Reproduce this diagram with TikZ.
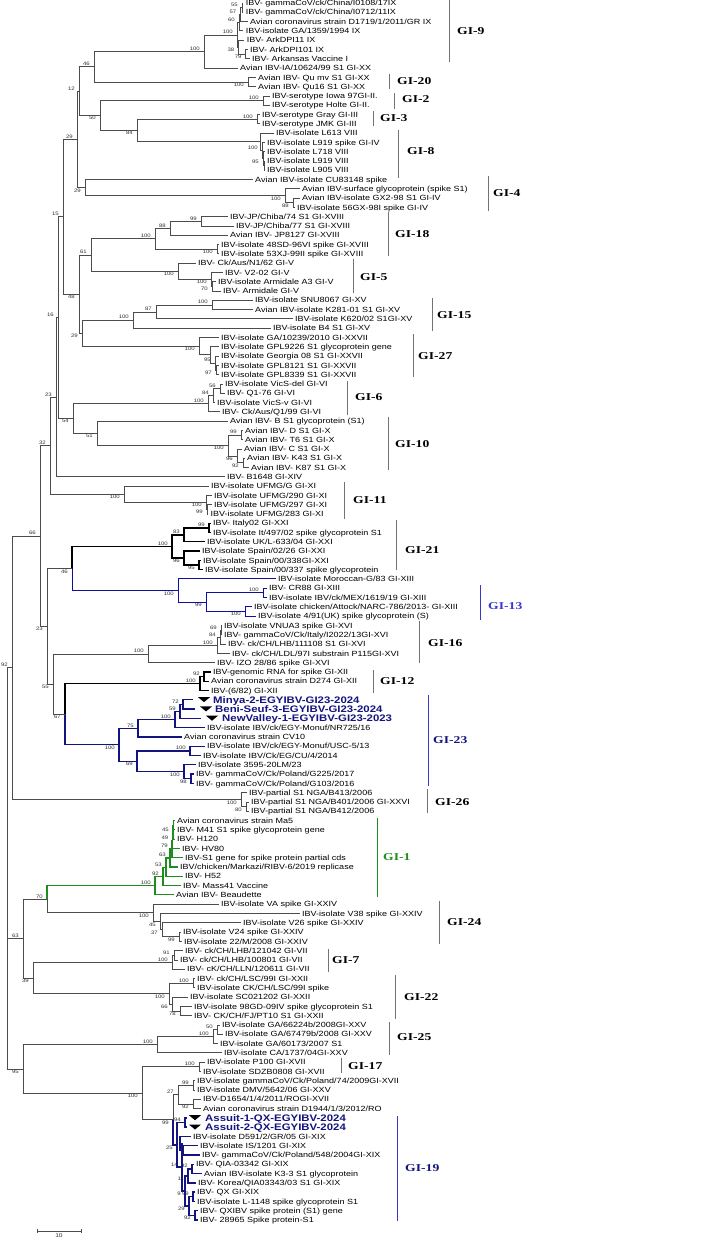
\documentclass[tikz,border=0pt]{standalone}
\usepackage{fontspec}
\setmainfont{Liberation Sans}
\newfontfamily\leaffont{Liberation Sans}[FakeStretch=1.2]
\newfontfamily\cladefont{Liberation Serif}[FakeStretch=1.3]
\usetikzlibrary{calc}
\definecolor{navy}{rgb}{0.08,0.08,0.5}
\definecolor{blu}{rgb}{0.22,0.22,0.8}
\definecolor{grn}{rgb}{0.12,0.55,0.12}
\definecolor{brc}{gray}{0.3}
\tikzset{
 br/.style={draw=brc, line width=0.75pt},
 brk/.style={draw=black, line width=1.3pt},
 brn/.style={draw=navy, line width=1.4pt},
 brbl/.style={draw=navy!75!blue, line width=1pt},
 brg/.style={draw=grn, line width=1.1pt},
 leaf/.style={anchor=west, inner sep=0pt, font=\leaffont\fontsize{7.5}{9}\selectfont, text height=5.4pt, text depth=0pt},
 leafb/.style={anchor=west, inner sep=0pt, font=\leaffont\bfseries\fontsize{9.5}{11}\selectfont, text=navy, text height=6.8pt, text depth=0pt},
 bsl/.style={inner sep=0pt, font=\leaffont\fontsize{5}{6}\selectfont, text=black!80},
 clab/.style={anchor=west, inner sep=0pt, font=\cladefont\bfseries\fontsize{10.5}{12}\selectfont},
 bar/.style={line width=0.8pt},
}
\newcommand\lf[3]{\coordinate (L#1) at ({#2-2.5},{3+(#1-1)*9.29}); \node[leaf] (T#1) at (#2,{3+(#1-1)*9.29}) {#3};}
\newcommand\lfm[5]{\coordinate (L#1) at (#2,{3+(#1-1)*9.29});
 \fill (#3,{3+(#1-1)*9.29-2.6}) -- ({#3+12},{3+(#1-1)*9.29-2.6}) -- ({#3+6},{3+(#1-1)*9.29+2.4}) -- cycle;
 \node[leafb] (T#1) at (#4,{3+(#1-1)*9.29}) {#5};}
\newcommand\ndx[6]{\path let \p1=($(#3)!0.5!(#4)$) in coordinate (#1) at (#2pt,\y1);
 \draw[#5] (#1) |- (#3); \draw[#6] (#1) |- (#4);}
\newcommand\nd[5][br]{\ndx{#2}{#3}{#4}{#5}{#1}{#1}}
\newcommand\ba[2]{\node[bsl,anchor=south east] (b#1) at ([xshift=-4pt,yshift=0.8pt]#1) {#2};}
\newcommand\bb[2]{\node[bsl,anchor=north east] (b#1) at ([xshift=-4pt,yshift=-0.8pt]#1) {#2};}
\newcommand\clade[9]{\draw[bar,draw=#8] (#2,#3) -- (#2,#4); \node[clab,text=#9] (#1) at (#5,#6) {#7};}
\begin{document}
\begin{tikzpicture}[x=1pt,y=-1pt]
\useasboundingbox (0,0) rectangle (706,1240);
\fill[white] (0,0) rectangle (706,1240);
% ---------- leaves
\lf{1}{245.7}{IBV- gammaCoV/ck/China/I0108/17IX}
\lf{2}{245.7}{IBV- gammaCoV/ck/China/I0712/11IX}
\lf{3}{250}{Avian coronavirus strain D1719/1/2011/GR IX}
\lf{4}{245.7}{IBV-isolate GA/1359/1994 IX}
\lf{5}{246.7}{IBV- ArkDPI11 IX}
\lf{6}{250}{IBV- ArkDPI101 IX}
\lf{7}{252}{IBV- Arkansas Vaccine I}
\lf{8}{240}{Avian IBV-IA/10624/99 S1 GI-XX}
\lf{9}{258}{Avian IBV- Qu mv S1 GI-XX}
\lf{10}{258}{Avian IBV- Qu16 S1 GI-XX}
\lf{11}{272}{IBV-serotype Iowa 97GI-II.}
\lf{12}{272}{IBV-serotype Holte GI-II.}
\lf{13}{262}{IBV-serotype Gray GI-III}
\lf{14}{262}{IBV-serotype JMK GI-III}
\lf{15}{276}{IBV-isolate L613 VIII}
\lf{16}{267}{IBV-isolate L919 spike GI-IV}
\lf{17}{267}{IBV-isolate L718 VIII}
\lf{18}{267}{IBV-isolate L919 VIII}
\lf{19}{267}{IBV-isolate L905 VIII}
\lf{20}{255}{Avian IBV-isolate CU83148 spike}
\lf{21}{302}{Avian IBV-surface glycoprotein (spike S1)}
\lf{22}{302}{Avian IBV-isolate GX2-98 S1 GI-IV}
\lf{23}{297}{IBV-isolate 56GX-98I spike GI-IV}
\lf{24}{230}{IBV-JP/Chiba/74 S1 GI-XVIII}
\lf{25}{236}{IBV-JP/Chiba/77 S1 GI-XVIII}
\lf{26}{230}{Avian IBV- JP8127 GI-XVIII}
\lf{27}{221}{IBV-isolate 48SD-96VI spike GI-XVIII}
\lf{28}{221}{IBV-isolate 53XJ-99II spike GI-XVIII}
\lf{29}{198}{IBV- Ck/Aus/N1/62 GI-V}
\lf{30}{225}{IBV- V2-02 GI-V}
\lf{31}{218}{IBV-isolate Armidale A3 GI-V}
\lf{32}{223}{IBV- Armidale GI-V}
\lf{33}{255}{IBV-isolate SNU8067 GI-XV}
\lf{34}{255}{Avian IBV-isolate K281-01 S1 GI-XV}
\lf{35}{295}{IBV-isolate K620/02 S1GI-XV}
\lf{36}{273}{IBV-isolate B4 S1 GI-XV}
\lf{37}{221}{IBV-isolate GA/10239/2010 GI-XXVII}
\lf{38}{221}{IBV-isolate GPL9226 S1 glycoprotein gene}
\lf{39}{221}{IBV-isolate Georgia 08 S1 GI-XXVII}
\lf{40}{221}{IBV-isolate GPL8121 S1 GI-XXVII}
\lf{41}{221}{IBV-isolate GPL8339 S1 GI-XXVII}
\lf{42}{225}{IBV-isolate VicS-del GI-VI}
\lf{43}{227}{IBV- Q1-76 GI-VI}
\lf{44}{217}{IBV-isolate VicS-v GI-VI}
\lf{45}{222}{IBV- Ck/Aus/Q1/99 GI-VI}
\lf{46}{230}{Avian IBV- B S1 glycoprotein (S1)}
\lf{47}{245}{Avian IBV- D S1 GI-X}
\lf{48}{245}{Avian IBV- T6 S1 GI-X}
\lf{49}{244}{Avian IBV- C S1 GI-X}
\lf{50}{247}{Avian IBV- K43 S1 GI-X}
\lf{51}{251}{Avian IBV- K87 S1 GI-X}
\lf{52}{227}{IBV- B1648 GI-XIV}
\lf{53}{211}{IBV-isolate UFMG/G GI-XI}
\lf{54}{214}{IBV-isolate UFMG/290 GI-XI}
\lf{55}{214}{IBV-isolate UFMG/297 GI-XI}
\lf{56}{210.5}{IBV-isolate UFMG/283 GI-XI}
\lf{57}{213}{IBV- Italy02 GI-XXI}
\lf{58}{213}{IBV-isolate It/497/02 spike glycoprotein S1}
\lf{59}{207}{IBV-isolate UK/L-633/04 GI-XXI}
\lf{60}{202}{IBV-isolate Spain/02/26 GI-XXI}
\lf{61}{203}{IBV-isolate Spain/00/338GI-XXI}
\lf{62}{205}{IBV-isolate Spain/00/337 spike glycoprotein}
\lf{63}{278}{IBV-isolate Moroccan-G/83 GI-XIII}
\lf{64}{269}{IBV- CR88 GI-XIII}
\lf{65}{269}{IBV-isolate IBV/ck/MEX/1619/19 GI-XIII}
\lf{66}{254}{IBV-isolate chicken/Attock/NARC-786/2013- GI-XIII}
\lf{67}{258}{IBV-isolate 4/91(UK) spike glycoprotein (S)}
\lf{68}{224}{IBV-isolate VNUA3 spike GI-XVI}
\lf{69}{224}{IBV- gammaCoV/Ck/Italy/I2022/13GI-XVI}
\lf{70}{228}{IBV- ck/CH/LHB/111108 S1 GI-XVI}
\lf{71}{232}{IBV- ck/CH/LDL/97I substrain P115GI-XVI}
\lf{72}{217}{IBV- IZO 28/86 spike GI-XVI}
\lf{73}{213}{IBV-genomic RNA for spike GI-XII}
\lf{74}{211}{Avian coronavirus strain D274 GI-XII}
\lf{75}{211}{IBV-(6/82) GI-XII}
\lfm{76}{193}{198}{213}{Minya-2-EGYIBV-GI23-2024}
\lfm{77}{195}{200}{215}{Beni-Seuf-3-EGYIBV-GI23-2024}
\lfm{78}{201}{206}{222}{NewValley-1-EGYIBV-GI23-2023}
\lf{79}{207}{IBV-isolate IBV/ck/EGY-Monuf/NR725/16}
\lf{80}{184}{Avian coronavirus strain CV10}
\lf{81}{207}{IBV-isolate IBV/ck/EGY-Monuf/USC-5/13}
\lf{82}{203}{IBV-isolate IBV/Ck/EG/CU/4/2014}
\lf{83}{198}{IBV-isolate 3595-20LM/23}
\lf{84}{196}{IBV- gammaCoV/Ck/Poland/G225/2017}
\lf{85}{196}{IBV- gammaCoV/Ck/Poland/G103/2016}
\lf{86}{249}{IBV-partial S1 NGA/B413/2006}
\lf{87}{251}{IBV-partial S1 NGA/B401/2006 GI-XXVI}
\lf{88}{251}{IBV-partial S1 NGA/B412/2006}
\lf{89}{177}{Avian coronavirus strain Ma5}
\lf{90}{177}{IBV- M41 S1 spike glycoprotein gene}
\lf{91}{177}{IBV- H120}
\lf{92}{182}{IBV- HV80}
\lf{93}{185}{IBV-S1 gene for spike protein partial cds}
\lf{94}{180}{IBV/chicken/Markazi/RIBV-6/2019 replicase}
\lf{95}{185}{IBV- H52}
\lf{96}{183}{IBV- Mass41 Vaccine}
\lf{97}{176}{Avian IBV- Beaudette}
\lf{98}{221}{IBV-isolate VA spike GI-XXIV}
\lf{99}{302}{IBV-isolate V38 spike GI-XXIV}
\lf{100}{243}{IBV-isolate V26 spike GI-XXIV}
\lf{101}{183}{IBV-isolate V24 spike GI-XXIV}
\lf{102}{184}{IBV-isolate 22/M/2008 GI-XXIV}
\lf{103}{185}{IBV- ck/CH/LHB/121042 GI-VII}
\lf{104}{180}{IBV- ck/CH/LHB/100801 GI-VII}
\lf{105}{187}{IBV- cK/CH/LLN/120611 GI-VII}
\lf{106}{197}{IBV- ck/CH/LSC/99I GI-XXII}
\lf{107}{197}{IBV-isolate CK/CH/LSC/99I spike}
\lf{108}{190}{IBV-isolate SC021202 GI-XXII}
\lf{109}{194}{IBV-isolate 98GD-09IV spike glycoprotein S1}
\lf{110}{194}{IBV- CK/CH/FJ/PT10 S1 GI-XXII}
\lf{111}{222}{IBV-isolate GA/66224b/2008GI-XXV}
\lf{112}{225}{IBV-isolate GA/67479b/2008 GI-XXV}
\lf{113}{220}{IBV-isolate GA/60173/2007 S1}
\lf{114}{224}{IBV-isolate CA/1737/04GI-XXV}
\lf{115}{207}{IBV-isolate P100 GI-XVII}
\lf{116}{203}{IBV-isolate SDZB0808 GI-XVII}
\lf{117}{197}{IBV-isolate gammaCoV/Ck/Poland/74/2009GI-XVII}
\lf{118}{197}{IBV-isolate DMV/5642/06 GI-XXV}
\lf{119}{203}{IBV-D1654/1/4/2011/ROGI-XVII}
\lf{120}{203}{Avian coronavirus strain D1944/1/3/2012/RO}
\lfm{121}{187}{189}{205}{Assuit-1-QX-EGYIBV-2024}
\lfm{122}{187}{189}{205}{Assuit-2-QX-EGYIBV-2024}
\lf{123}{193}{IBV-isolate D591/2/GR/05 GI-XIX}
\lf{124}{200}{IBV-isolate IS/1201 GI-XIX}
\lf{125}{202}{IBV- gammaCoV/Ck/Poland/548/2004GI-XIX}
\lf{126}{196}{IBV- QIA-03342 GI-XIX}
\lf{127}{204}{Avian IBV-isolate K3-3 S1 glycoprotein}
\lf{128}{198}{IBV- Korea/QIA03343/03 S1 GI-XIX}
\lf{129}{197}{IBV- QX GI-XIX}
\lf{130}{197}{IBV-isolate L-1148 spike glycoprotein S1}
\lf{131}{200}{IBV- QXIBV spike protein (S1) gene}
\lf{132}{200}{IBV- 28965 Spike protein-S1}
% ---------- internal nodes
% GI-9 / GI-20
\nd{n9a}{242}{L1}{L2}\ba{n9a}{55}
\nd{n9b}{240.5}{n9a}{L3}\ba{n9b}{57}
\nd{n9c}{239}{n9b}{L4}\ba{n9c}{60}
\nd{n9d}{245.7}{L6}{L7}\bb{n9d}{79}
\nd{n9e}{238.5}{L5}{n9d}\bb{n9e}{38}
\nd{n9f}{237}{n9c}{n9e}\ba{n9f}{100}
\nd{n9g}{204}{n9f}{L8}\ba{n9g}{100}
\nd{n20}{248}{L9}{L10}\bb{n20}{100}
\nd{N46t}{94}{n9g}{n20}\ba{N46t}{46}
% GI-2, GI-3, GI-8
\nd{n2}{263}{L11}{L12}\ba{n2}{100}
\nd{n3}{257}{L13}{L14}\ba{n3}{100}
\nd{n8k}{264}{L18}{L19}
\nd{n8j}{263}{L17}{n8k}\bb{n8j}{95}
\nd{n8i}{262}{L16}{n8j}\ba{n8i}{100}
\nd{n8h}{260}{L15}{n8i}
\nd{N84}{137}{n3}{n8h}\bb{N84}{84}
\nd{N50}{100}{n2}{N84}\bb{N50}{50}
\nd{N12}{79}{N46t}{N50}\ba{N12}{12}
% GI-4
\nd{n4a}{293}{L22}{L23}\bb{n4a}{88}
\nd{n4b}{285}{L21}{n4a}\bb{n4b}{100}
\nd{n4r}{85}{L20}{n4b}\bb{n4r}{29}
\nd{N29a}{77}{N12}{n4r}\ba{N29a}{29}
% GI-18, GI-5
\nd{n18a}{201}{L24}{L25}\ba{n18a}{99}
\nd{n18b}{170}{n18a}{L26}\ba{n18b}{88}
\nd{n18c}{217}{L27}{L28}\bb{n18c}{100}
\nd{n18r}{155}{n18b}{n18c}\ba{n18r}{100}
\nd{n5a}{212}{L31}{L32}\bb{n5a}{70}
\nd{n5b}{211}{L30}{n5a}\bb{n5b}{100}
\nd{n5r}{178}{L29}{n5b}\bb{n5r}{100}
\nd{N61}{91}{n18r}{n5r}\ba{N61}{61}
% GI-15, GI-27
\nd{n15a}{212}{L33}{L34}\ba{n15a}{100}
\nd{n15b}{156}{n15a}{L35}\ba{n15b}{87}
\nd{n15r}{133}{n15b}{L36}\ba{n15r}{100}
\nd{n27a}{216}{L40}{L41}\bb{n27a}{97}
\nd{n27b}{215}{L39}{n27a}\ba{n27b}{95}
\nd{n27c}{210}{L38}{n27b}
\nd{n27r}{199}{L37}{n27c}\bb{n27r}{100}
\nd{N29b}{82}{n15r}{n27r}\bb{N29b}{29}
\nd{N48}{79}{N61}{N29b}\bb{N48}{48}
\nd{N15}{63}{N29a}{N48}\ba{N15}{15}
% GI-6, GI-10
\nd{n6a}{220}{L42}{L43}\ba{n6a}{56}
\nd{n6b}{213}{n6a}{L44}\ba{n6b}{84}
\nd{n6r}{208}{n6b}{L45}\ba{n6r}{100}
\nd{n10a}{241}{L47}{L48}\ba{n10a}{99}
\nd{n10b}{243}{L50}{L51}\bb{n10b}{92}
\nd{n10c}{237}{L49}{n10b}\bb{n10c}{96}
\nd{n10d}{228}{n10a}{n10c}\bb{n10d}{100}
\nd{n10r}{97}{L46}{n10d}\bb{n10r}{51}
\nd{N54}{73}{n6r}{n10r}\bb{N54}{54}
\nd{N16}{58}{N15}{N54}\ba{N16}{16}
\nd{N23}{56}{N16}{L52}\ba{N23}{23}
% GI-11
\nd{n11a}{207}{L55}{L56}\bb{n11a}{99}
\nd{n11b}{206}{L54}{n11a}\bb{n11b}{100}
\nd{n11r}{124}{L53}{n11b}\bb{n11r}{100}
\nd{N32}{50}{N23}{n11r}\ba{N32}{32}
% GI-21, GI-13
\nd[brk]{n21a}{209}{L57}{L58}\ba{n21a}{99}
\nd[brk]{n21b}{184}{n21a}{L59}\ba{n21b}{83}
\nd[brk]{n21c}{199}{L61}{L62}\bb{n21c}{95}
\nd[brk]{n21d}{184}{L60}{n21c}\bb{n21d}{96}
\nd[brk]{n21r}{172}{n21b}{n21d}\ba{n21r}{100}
\nd[brbl]{n13a}{263}{L64}{L65}\ba{n13a}{100}
\nd[brbl]{n13b}{245}{L66}{L67}\bb{n13b}{100}
\nd[brbl]{n13c}{206}{n13a}{n13b}\bb{n13c}{99}
\nd[brbl]{n13r}{178}{L63}{n13c}\bb{n13r}{100}
\ndx{N46}{72}{n21r}{n13r}{brk}{brbl}\bb{N46}{46}
% GI-16, GI-12, GI-23
\nd{n16a}{221}{L68}{L69}\ba{n16a}{69}
\nd{n16b}{220}{n16a}{L70}\ba{n16b}{84}
\nd{n16c}{217}{n16b}{L71}\ba{n16c}{100}
\nd{n16r}{148}{n16c}{L72}\ba{n16r}{100}
\nd[brk]{n12a}{204}{L73}{L74}\ba{n12a}{92}
\nd[brk]{n12r}{200}{n12a}{L75}\ba{n12r}{100}
\nd[brn]{n23a}{183}{L76}{L77}\ba{n23a}{72}
\nd[brn]{n23b}{180}{n23a}{L78}\ba{n23b}{59}
\nd[brn]{n23c}{175}{n23b}{L79}\ba{n23c}{100}
\nd[brn]{n23d}{138}{n23c}{L80}\ba{n23d}{75}
\nd[brn]{n23e}{190}{L81}{L82}\ba{n23e}{100}
\nd[brn]{n23f}{191}{L84}{L85}\bb{n23f}{98}
\nd[brn]{n23g}{184}{L83}{n23f}\bb{n23g}{100}
\nd[brn]{n23h}{137}{n23e}{n23g}\bb{n23h}{69}
\nd[brn]{n23r}{119}{n23d}{n23h}\bb{n23r}{100}
\ndx{N67}{65}{n12r}{n23r}{brk}{brn}\bb{N67}{67}
\nd{N55}{53}{n16r}{N67}\bb{N55}{55}
\nd{N23b}{47}{N46}{N55}\bb{N23b}{23}
\nd{N66}{40}{N32}{N23b}\ba{N66}{66}
% GI-26
\nd{n26a}{246}{L87}{L88}\bb{n26a}{80}
\nd{n26r}{241}{L86}{n26a}\bb{n26r}{100}
\nd{N92}{12}{N66}{n26r}\ba{N92}{92}
% GI-1, GI-24
\nd[brg]{n1a}{173.5}{L89}{L90}
\nd[brg]{n1b}{173}{n1a}{L91}\ba{n1b}{45}
\nd[brg]{n1c}{172.5}{n1b}{L92}\ba{n1c}{49}
\nd[brg]{n1d}{172}{n1c}{L93}\ba{n1d}{79}
\nd[brg]{n1e}{170}{n1d}{L94}\ba{n1e}{63}
\nd[brg]{n1f}{166}{n1e}{L95}\ba{n1f}{53}
\nd[brg]{n1g}{163}{n1f}{L96}\ba{n1g}{92}
\nd[brg]{n1r}{155}{n1g}{L97}\ba{n1r}{100}
\nd{n24a}{179}{L101}{L102}\bb{n24a}{99}
\nd{n24b}{162}{L100}{n24a}\bb{n24b}{37}
\nd{n24c}{160}{L99}{n24b}\bb{n24c}{45}
\nd{n24r}{153}{L98}{n24c}\bb{n24r}{100}
\ndx{N70}{47}{n1r}{n24r}{brg}{br}\ba{N70}{70}
% GI-7, GI-22
\nd{n7a}{174}{L103}{L104}\ba{n7a}{91}
\nd{n7r}{172}{n7a}{L105}\ba{n7r}{100}
\nd{n22a}{193}{L106}{L107}\ba{n22a}{100}
\nd{n22b}{180}{L109}{L110}\bb{n22b}{78}
\nd{n22c}{172}{L108}{n22b}\bb{n22c}{66}
\nd{n22r}{169}{n22a}{n22c}\bb{n22r}{100}
\nd{N39}{33}{n7r}{n22r}\bb{N39}{39}
\nd{N63}{23}{N70}{N39}\ba{N63}{63}
% GI-25, GI-17, GI-19
\nd{n25a}{217}{L111}{L112}\ba{n25a}{50}
\nd{n25b}{213}{n25a}{L113}\ba{n25b}{100}
\nd{n25r}{157}{n25b}{L114}\ba{n25r}{100}
\nd{n17r}{199}{L115}{L116}\ba{n17r}{100}
\nd{nq1}{193}{L117}{L118}\ba{nq1}{99}
\nd{nq2}{193}{L119}{L120}\bb{nq2}{92}
\nd{nq3}{178}{nq1}{nq2}\ba{nq3}{27}
\nd[brn]{p19}{185}{L121}{L122}\ba{p19}{94}
\nd[brn]{g19k}{183}{L124}{L125}
\nd[brn]{g19m}{180}{L123}{g19k}
\nd[brn]{g19r}{192}{L126}{L127}\ba{g19r}{92}
\nd[brn]{g19t}{188}{g19r}{L128}\bb{g19t}{11}
\nd[brn]{g19u}{193}{L129}{L130}\ba{g19u}{99}
\nd[brn]{g19v}{195}{L131}{L132}\bb{g19v}{92}
\nd[brn]{g19w}{189}{g19u}{g19v}\bb{g19w}{29}
\nd[brn]{g19x}{185}{g19t}{g19w}\bb{g19x}{9}
\nd[brn]{g19n}{182}{g19m}{g19x}\ba{g19n}{14}
\nd[brn]{G19}{177}{p19}{g19n}\bb{G19}{25}
\ndx{X}{173}{nq3}{G19}{br}{brn}\bb{X}{99}
\nd{N100}{142}{n17r}{X}\bb{N100}{100}
\nd{N95}{23}{n25r}{N100}\bb{N95}{95}
% root
\path let \p1=($(N92)!0.5!(N95)$) in coordinate (R) at (7pt,\y1);
\draw[br] (R) |- (N92); \draw[br] (R) |- (N63); \draw[br] (R) |- (N95);
% ---------- clade bars and labels
\clade{c9}{449}{0}{62}{457}{31}{GI-9}{black!55}{black}
\clade{c20}{389}{74}{89}{397}{81}{GI-20}{black!55}{black}
\clade{c2}{394}{93}{109}{402}{99}{GI-2}{black!55}{black}
\clade{c3}{373}{111}{126}{380}{118}{GI-3}{black!55}{black}
\clade{c8}{398}{130}{178}{407}{151}{GI-8}{black!55}{black}
\clade{c4}{488}{176}{211}{493}{193}{GI-4}{black!55}{black}
\clade{c18}{388}{212}{256}{395}{234}{GI-18}{black!55}{black}
\clade{c5}{353}{259}{293}{360}{277}{GI-5}{black!55}{black}
\clade{c15}{432}{298}{331}{437}{315}{GI-15}{black!55}{black}
\clade{c27}{413}{334}{377}{418}{356}{GI-27}{black!55}{black}
\clade{c6}{347}{381}{415}{355}{397}{GI-6}{black!55}{black}
\clade{c10}{388}{417}{470}{395}{444}{GI-10}{black!55}{black}
\clade{c11}{344}{482}{519}{353}{500}{GI-11}{black!55}{black}
\clade{c21}{396}{520}{570}{405}{550}{GI-21}{black!55}{black}
\clade{c13}{480}{585}{620}{488}{606}{GI-13}{blu}{blu}
\clade{c16}{419}{621}{663}{428}{643}{GI-16}{black!55}{black}
\clade{c12}{373}{670}{693}{380}{681}{GI-12}{black!55}{black}
\clade{c23}{428}{695}{786}{433}{740}{GI-23}{blu}{navy}
\clade{c26}{427}{789}{813}{435}{802}{GI-26}{black!55}{black}
\clade{c1}{377}{818}{897}{383}{857}{GI-1}{grn}{grn}
\clade{c24}{439}{901}{944}{447}{922}{GI-24}{black!55}{black}
\clade{c7}{328}{949}{972}{332}{960}{GI-7}{black!55}{black}
\clade{c22}{395}{975}{1019}{404}{997}{GI-22}{black!55}{black}
\clade{c25}{389}{1022}{1055}{397}{1037}{GI-25}{black!55}{black}
\clade{c17}{341}{1058}{1073}{348}{1066}{GI-17}{black!55}{black}
\clade{c19}{397}{1116}{1221}{405}{1168}{GI-19}{blu}{navy}
% ---------- scale bar
\coordinate (sb1) at (37,1231); \coordinate (sb2) at (81,1231);
\draw[br] (sb1) -- (sb2);
\draw[br] ([yshift=2pt]sb1) -- ([yshift=-2pt]sb1);
\draw[br] ([yshift=2pt]sb2) -- ([yshift=-2pt]sb2);
\node[bsl,font=\leaffont\fontsize{5.5}{6}\selectfont,anchor=north] (sbl) at (59,1233.5) {10};
\end{tikzpicture}
\end{document}
